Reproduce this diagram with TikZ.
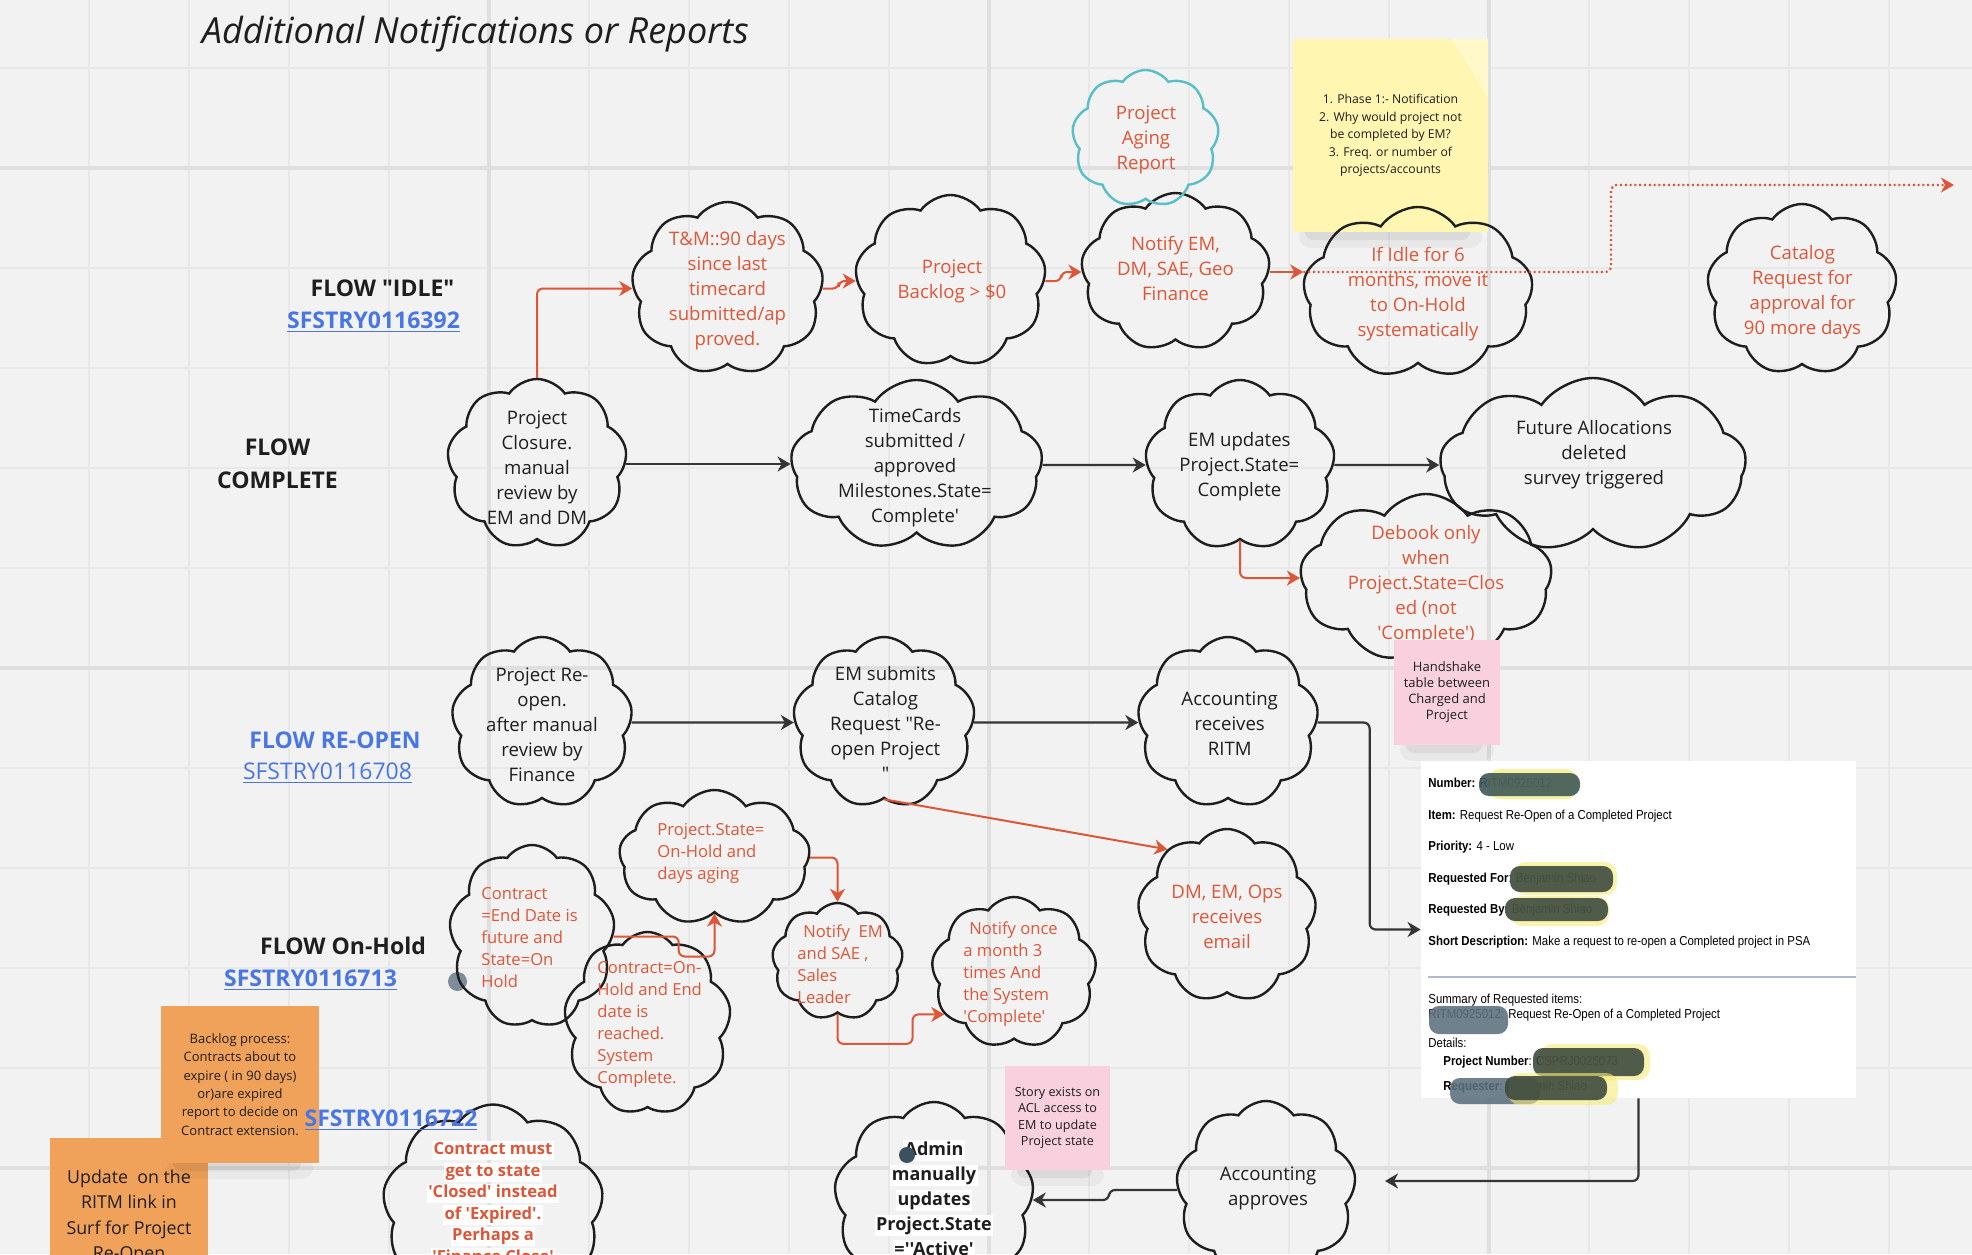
\documentclass[tikz,border=0pt]{standalone}
\usepackage{fontspec}
\newfontfamily\osf{Open Sans}
\newfontfamily\boxfont{Liberation Sans}[FakeStretch=0.88]
\usetikzlibrary{shapes.symbols,arrows.meta,calc}

\definecolor{bg}{RGB}{242,242,242}
\definecolor{gridc}{RGB}{232,232,232}
\definecolor{gridd}{RGB}{223,223,223}
\definecolor{redt}{RGB}{221,86,56}
\definecolor{linkb}{RGB}{72,118,228}
\definecolor{tealc}{RGB}{88,190,200}
\definecolor{inkc}{RGB}{30,30,30}
\definecolor{stickyy}{RGB}{255,246,178}
\definecolor{stickyp}{RGB}{248,208,222}
\definecolor{stickyo}{RGB}{241,162,90}
\definecolor{blobd}{RGB}{58,70,60}
\definecolor{blobt}{RGB}{60,84,86}
\definecolor{blobb}{RGB}{92,112,126}
\definecolor{bloby}{RGB}{245,236,120}
\definecolor{sepc}{RGB}{175,185,205}
\definecolor{dotc}{RGB}{125,140,150}
\definecolor{dotd}{RGB}{60,80,95}

% white highlight behind one line of text
\newcommand\hl[1]{{\setlength{\fboxsep}{0.7pt}\colorbox{white}{\vphantom{Apgy'}#1}}}
\newcommand\nshadow[3]{%
  \fill[black,opacity=0.04,rounded corners=6pt] (#1+6,#3-6) rectangle (#2-6,#3+16);
  \fill[black,opacity=0.06,rounded corners=4pt] (#1+12,#3-6) rectangle (#2-18,#3+8);}
\newcommand\blob[5]{\fill[#5,opacity=0.88,rounded corners=5pt] (#1,#2) rectangle (#3,#4);}

\tikzset{
  cl/.style 2 args={draw=inkc, line width=1.2pt, cloud, cloud puffs=9,
    cloud puff arc=110, cloud ignores aspect,
    minimum width=#1*0.5pt, minimum height=#2*0.5pt, inner sep=0pt},
  ct/.style={font=\osf\fontsize{9.3}{12.5}\selectfont, align=center,
    inner sep=0pt, text=inkc},
  rt/.style={ct, text=redt},
  rl/.style={font=\osf\fontsize{8.3}{11}\selectfont, align=left,
    anchor=west, inner sep=0pt, text=redt},
  lbl/.style={font=\osf\bfseries\fontsize{11.5}{16.5}\selectfont,
    text=inkc, inner sep=0pt, align=center},
  lnk/.style={lbl, text=linkb},
  lnkr/.style={font=\osf\fontsize{11.5}{14}\selectfont, text=linkb, inner sep=0pt},
  note/.style={rectangle, inner sep=2pt, align=center, text=inkc},
  boxt/.style={anchor=west, inner sep=0pt,
    font=\boxfont\fontsize{6.5}{8}\selectfont, text=black},
  tip/.style={-{Stealth[length=6.5pt,width=7.5pt,inset=2pt]}},
  rarr/.style={draw=redt, line width=1pt, tip, rounded corners=3pt},
  barr/.style={draw=inkc!90, line width=1.1pt, tip, rounded corners=3pt},
  rdot/.style={draw=redt, line width=1.1pt, dash pattern=on 1pt off 1.4pt,
    tip, rounded corners=3pt},
}

\begin{document}
\begin{tikzpicture}[x=0.5pt, y=-0.5pt]
\useasboundingbox (0,0) rectangle (1972,1254);
\fill[bg] (0,0) rectangle (1972,1254);

% board grid
\foreach \gx in {89,189,...,1989} \draw[gridc, line width=1.4pt] (\gx,0) -- (\gx,1254);
\foreach \gy in {68,168,...,1268} \draw[gridc, line width=1.4pt] (0,\gy) -- (1972,\gy);
\foreach \gx in {489,989,1489} \draw[gridd, line width=1.8pt] (\gx,0) -- (\gx,1254);
\foreach \gy in {168,668,1168} \draw[gridd, line width=1.8pt] (0,\gy) -- (1972,\gy);

% title
\node[anchor=west, inner sep=0pt, text=inkc,
  font=\osf\itshape\fontsize{18}{21}\selectfont] (title) at (201.5,34)
  {Additional Notifications or Reports};

% row labels
\node[lbl] (idlelbl) at (382.5,288) {FLOW "IDLE"};
\node[lnk] (idlelink) at (373.5,322) {\underline{SFSTRY0116392}};
\node[lbl] (complbl) at (277.5,463.5) {FLOW\\COMPLETE};
\node[lnk] (reopenlbl) at (335,740) {FLOW RE-OPEN};
\node[lnkr] (reopenlink) at (327.5,773) {\underline{SFSTRY0116708}};
\node[lbl] (holdlbl) at (343,946) {FLOW On-Hold};
\node[lnk] (holdlink) at (310.5,980) {\underline{SFSTRY0116713}};
\node[circle, fill=dotc, minimum size=9.5pt, inner sep=0pt] (holddot) at (457.5,981.5) {};

% request record screenshot
\node[fill=white, minimum width=217.5pt, minimum height=168.5pt, inner sep=0pt]
  (box) at (1638.5,929.5) {};
\node[boxt] (bnum) at (1428,783) {\textbf{Number:} RITM0925012};
\node[boxt] (bitem) at (1428,816) {\textbf{Item:} Request Re-Open of a Completed Project};
\node[boxt] (bprio) at (1428,847) {\textbf{Priority:} 4 - Low};
\node[boxt] (bfor) at (1428,879) {\textbf{Requested For}: Benjamin Shiao};
\node[boxt] (bby) at (1428,910) {\textbf{Requested By}: Benjamin Shiao};
\node[boxt] (bdesc) at (1428,942) {\textbf{Short Description:} Make a request to re-open a Completed project in PSA};
\draw[sepc, line width=1pt] (1428,977) -- (1856,977);
\node[boxt] (bsum) at (1428,1000) {Summary of Requested items:};
\node[boxt] (britm) at (1428,1015) {RITM0925012: Request Re-Open of a Completed Project};
\node[boxt] (bdet) at (1428,1043) {Details:};
\node[boxt] (bproj) at (1443,1062) {\textbf{Project Number}: CSPRJ0025073};
\node[boxt] (breq) at (1443,1087) {\textbf{Requester}: Benjamin Shiao};
% redaction marks
\fill[bloby,opacity=0.7,rounded corners=6pt] (1488,769) rectangle (1578,799);
\blob{1479}{773}{1580}{796}{blobt}
\fill[bloby,opacity=0.6,rounded corners=6pt] (1514,862) rectangle (1617,895);
\blob{1510}{866}{1613}{892}{blobd}
\fill[bloby,opacity=0.6,rounded corners=6pt] (1510,896) rectangle (1609,926);
\blob{1505}{898}{1608}{921}{blobd}
\blob{1429}{1006}{1508}{1034}{blobb}
\fill[bloby,opacity=0.6,rounded corners=6pt] (1540,1044) rectangle (1650,1080);
\blob{1533}{1048}{1644}{1076}{blobd}
\blob{1450}{1078}{1540}{1104}{blobb}
\fill[bloby,opacity=0.6,rounded corners=6pt] (1508,1073) rectangle (1618,1105);
\blob{1505}{1076}{1607}{1100}{blobd}

% yellow sticky note (sits under the idle cloud)
\nshadow{1293}{1488}{232}
\node[note, fill=stickyy, minimum width=97.5pt, minimum height=96.5pt,
  font=\osf\fontsize{6.1}{8.75}\selectfont] (ynote) at (1390.5,135.5)
  {1. Phase 1:- Notification\\2. Why would project not\\be completed by EM?\\3. Freq. or number of\\projects/accounts};
\fill[white,opacity=0.3] (1452,39) -- (1488,39) -- (1488,98) -- cycle;

% clouds
\node[cl={192}{173}] (tm) at (727.5,288.5) {};
\node[cl={191}{172}] (backlog) at (950.5,281) {};
\node[cl={189}{158}] (notify) at (1175.5,272) {};
\node[cl={147}{137}, draw=tealc] (aging) at (1145.5,138.5) {};
\node[cl={230}{171}] (idle) at (1418,292.5) {};
\node[cl={190}{171}] (catalog) at (1802,289.5) {};
\node[cl={180}{170}] (closure) at (537,464) {};
\node[cl={252}{170}] (timecards) at (916.6,465) {};
\node[cl={190}{170}] (emupd) at (1240,465) {};
\node[cl={306}{174}] (future) at (1593,465) {};
\node[cl={252}{168}] (debook) at (1426,578) {};
\node[cl={181}{171}] (reopen) at (542,722.5) {};
\node[cl={182}{171}] (emsub) at (884,722.5) {};
\node[cl={181}{171}] (acctrec) at (1228,722.5) {};
\node[cl={166}{183}] (ctr1) at (532,936.5) {};
\node[cl={167}{183}] (ctr2) at (647.5,1023.5) {};
\node[cl={191}{135}] (pstate) at (714.5,857.5) {};
\node[cl={131}{117}] (notem) at (837.5,961.5) {};
\node[cl={165}{151}] (notonce) at (1014,972.5) {};
\node[cl={179}{173}] (dmops) at (1227,915.5) {};
\node[cl={221}{205}] (ctr3) at (493,1207) {};
\node[cl={200}{196}] (admin) at (934,1200) {};
\node[cl={180}{178}] (acctapp) at (1266,1190) {};

% cloud texts
\node[rt] (tmT) at (727.5,291) {T\&M::90 days\\since last\\timecard\\submitted/ap\\proved.};
\node[rt] (backlogT) at (952,281.5) {Project\\Backlog > \$0};
\node[rt] (notifyT) at (1175.5,268) {Notify EM,\\DM, SAE, Geo\\Finance};
\node[rt] (agingT) at (1146,140) {Project\\Aging\\Report};
\node[rt] (idleT) at (1418,294.5) {If Idle for 6\\months, move it\\to On-Hold\\systematically};
\node[rt] (catalogT) at (1802.5,292) {Catalog\\Request for\\approval for\\90 more days};
\node[ct] (closureT) at (537,468) {Project\\Closure.\\manual\\review by\\EM and DM};
\node[ct] (timecardsT) at (915,468) {TimeCards\\submitted /\\approved\\Milestones.State=\\Complete'};
\node[ct] (emupdT) at (1239.4,467) {EM updates\\Project.State=\\Complete};
\node[ct] (futureT) at (1594,455) {Future Allocations\\deleted\\survey triggered};
\node[rt] (debookT) at (1426,585) {Debook only\\when\\Project.State=Clos\\ed (not\\'Complete')};
\node[ct] (reopenT) at (542,725) {Project Re-\\open.\\after manual\\review by\\Finance};
\node[ct] (emsubT) at (885.5,723) {EM submits\\Catalog\\Request "Re-\\open Project\\"};
\node[ct] (acctrecT) at (1229.7,724) {Accounting\\receives\\RITM};
\node[rl] (ctr1T) at (481,938) {Contract\\=End Date is\\future and\\State=On\\Hold};
\node[rl] (ctr2T) at (597,1024) {Contract=On-\\Hold and End\\date is\\reached.\\System\\Complete.};
\node[rl] (pstateT) at (657,853.5) {Project.State=\\On-Hold and\\days aging};
\node[rl] (notemT) at (797,964.5) {\hspace*{3pt}Notify\ \ EM\\and SAE ,\\Sales\\Leader};
\node[rl] (notonceT) at (963,974) {\hspace*{3pt}Notify once\\a month 3\\times And\\the System\\'Complete'};
\node[rt] (dmopsT) at (1227,917) {DM, EM, Ops\\receives\\email};
\node[anchor=north, inner sep=0pt, align=center, text=redt,
  font=\osf\bfseries\fontsize{8.3}{10.75}\selectfont] (ctr3T) at (493,1141)
  {\hl{Contract must}\\\hl{get to state}\\\hl{'Closed' instead}\\\hl{of 'Expired'.}\\\hl{Perhaps a}\\\hl{'Finance Close'}};
\node[anchor=north, inner sep=0pt, align=center, text=inkc,
  font=\osf\bfseries\fontsize{9}{12.5}\selectfont] (adminT) at (934,1140)
  {\hl{Admin}\\\hl{manually}\\\hl{updates}\\\hl{Project.State}\\\hl{=''Active'}};
\node[circle, fill=dotd, minimum size=8pt, inner sep=0pt] (admindot) at (907,1155) {};
\node[ct] (acctappT) at (1268,1188.5) {Accounting\\approves};

% connectors: idle flow
\draw[rarr] (closure.north) |- (tm.west);
\draw[rarr] (tm.east) -- ++(16,0) |- (backlog.west);
\draw[rarr] (backlog.east) -- ++(16,0) |- (notify.west);
\draw[rarr] (notify.east) -- (notify.east -| idle.west);
\coordinate (dotbend) at (1611,185);
\coordinate (dotend) at (1954,185);
\draw[rdot] (notify.east -| idle.west) -| (dotbend) -- (dotend);

% connectors: complete flow
\draw[barr] (closure.east) -- (closure.east -| timecards.west);
\draw[barr] (timecards.east) -- (emupd.west);
\draw[barr] (emupd.east) -- (future.west);
\draw[rarr] (emupd.south) |- (debook.west);

% connectors: re-open flow
\draw[barr] (reopen.east) -- (emsub.west);
\draw[barr] (emsub.east) -- (acctrec.west);
\draw[barr] (acctrec.east) -- ++(52,0) |- (box.west);
\coordinate (apptip) at (1385,1181);
\draw[barr] (box.south) |- (apptip);
\draw[barr] (acctapp.west) -- ++(-68,0) -- ++(0,10) -- (admin.east);
\draw[rarr] (emsub.south) -- (dmops.132);

% connectors: on-hold flow
\draw[rarr] (ctr1.east) -- ++(65,0) -- ++(0,20) -| (pstate.south);
\draw[rarr] (pstate.east) -| (notem.north);
\draw[rarr] (notem.south) -- ++(0,30) -- ++(75,0) |- (notonce.211);

% sticky notes on top
\nshadow{1394}{1500}{745}
\node[note, fill=stickyp, minimum width=53pt, minimum height=52.5pt,
  font=\osf\fontsize{6.5}{8}\selectfont] (pnote1) at (1447,692.5)
  {Handshake\\table between\\Charged and\\Project};
\nshadow{1005}{1110}{1170}
\node[note, fill=stickyp, minimum width=52.5pt, minimum height=52pt,
  font=\osf\fontsize{6.3}{8.2}\selectfont] (pnote2) at (1057.5,1118)
  {Story exists on\\ACL access to\\EM to update\\Project state};
\node[note, fill=stickyo, minimum width=79pt, minimum height=79pt,
  font=\osf\fontsize{8.9}{12.75}\selectfont] (onote2) at (129,1217)
  {Update\ \ on the\\RITM link in\\Surf for Project\\Re-Open};
\nshadow{161}{319}{1163}
\node[note, fill=stickyo, minimum width=79pt, minimum height=78.5pt,
  font=\osf\fontsize{6.5}{9.2}\selectfont] (onote1) at (240,1084.5)
  {Backlog process:\\Contracts about to\\expire ( in 90 days)\\or)are expired\\report to decide on\\Contract extension.};
\node[lnk] (expirelink) at (391,1120) {\underline{SFSTRY0116722}};
\end{tikzpicture}
\end{document}
